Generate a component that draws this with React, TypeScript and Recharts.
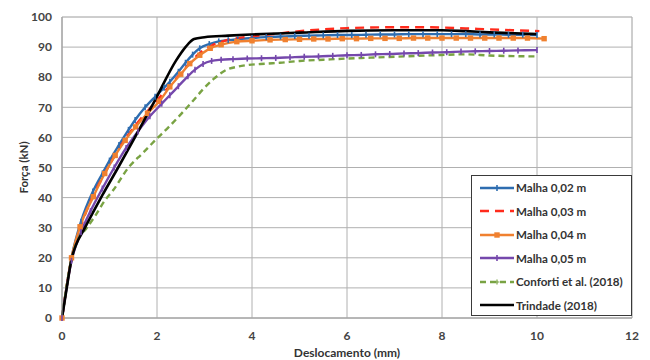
import React from 'react';
import { LineChart, Line, XAxis, YAxis, CartesianGrid, Legend } from 'recharts';

// Tick values
const xTicks = [0, 2, 4, 6, 8, 10, 12];
const yTicks = [0, 10, 20, 30, 40, 50, 60, 70, 80, 90, 100];
const minorX = [0, 0.4, 0.8, 1.2, 1.6, 2, 2.4, 2.8, 3.2, 3.6, 4, 4.4, 4.8, 5.2, 5.6, 6, 6.4, 6.8, 7.2, 7.6, 8, 8.4, 8.8, 9.2, 9.6, 10, 10.4, 10.8, 11.2, 11.6, 12];
const minorY = [0, 2, 4, 6, 8, 10, 12, 14, 16, 18, 20, 22, 24, 26, 28, 30, 32, 34, 36, 38, 40, 42, 44, 46, 48, 50, 52, 54, 56, 58, 60, 62, 64, 66, 68, 70, 72, 74, 76, 78, 80, 82, 84, 86, 88, 90, 92, 94, 96, 98, 100];

// Malha 0,02 m
const disp02 = [0, 0.2, 0.4, 0.65, 0.85, 1.0, 1.2, 1.4, 1.54, 1.75, 1.96, 2.15, 2.27, 2.45, 2.6, 2.75, 2.9, 3.1, 3.3, 3.5, 3.7, 4.0, 4.3, 4.6, 4.9, 5.2, 5.5, 5.8, 6.1, 6.4, 6.7, 7.0, 7.3, 7.6, 7.9, 8.2, 8.5, 8.8, 9.1, 9.4, 9.7, 10.0];
const force02 = [0, 20, 32, 42, 48, 52.3, 57.5, 62.5, 65.8, 70, 73.5, 76.5, 78.5, 81.8, 84.8, 87.5, 89.6, 91, 91.9, 92.3, 92.6, 93, 93.3, 93.5, 93.7, 93.8, 93.9, 94, 94, 94.1, 94.2, 94.2, 94.3, 94.3, 94.3, 94.3, 94.3, 94.2, 94.2, 94.1, 94.1, 94.0];

// Malha 0,03 m
const disp03 = [0, 0.2, 0.4, 0.65, 0.9, 1.15, 1.4, 1.65, 1.9, 2.15, 2.4, 2.65, 2.9, 3.15, 3.4, 3.7, 4.0, 4.5, 5, 5.5, 6, 6.5, 7, 7.5, 8, 8.5, 9, 9.5, 10.05];
const force03 = [0, 19.5, 30.5, 40.5, 48, 55, 61, 66, 70.5, 75, 79.5, 84, 88, 90.5, 92, 93, 93.6, 94.4, 95.3, 95.9, 96.3, 96.5, 96.6, 96.6, 96.5, 96.2, 95.9, 95.6, 95.3];

// Malha 0,04 m
const disp04 = [0, 0.2, 0.38, 0.66, 0.9, 1.12, 1.33, 1.55, 1.8, 2.05, 2.27, 2.5, 2.69, 2.9, 3.12, 3.35, 3.68, 4.0, 4.38, 4.7, 5.0, 5.3, 5.6, 5.9, 6.2, 6.5, 6.8, 7.1, 7.4, 7.7, 8.0, 8.3, 8.6, 8.9, 9.2, 9.5, 9.8, 10.15];
const force04 = [0, 20, 30.3, 40.3, 48, 54, 59, 63.5, 68, 72, 76.8, 81, 84.5, 87.3, 89.6, 90.8, 91.8, 92.1, 92.4, 92.5, 92.6, 92.7, 92.7, 92.8, 92.8, 92.9, 92.9, 92.9, 93, 93, 93, 93, 93, 93, 93, 93, 93, 92.8];

// Malha 0,05 m
const disp05 = [0, 0.2, 0.4, 0.6, 0.85, 1.1, 1.35, 1.6, 1.85, 2.1, 2.27, 2.45, 2.65, 2.8, 2.97, 3.15, 3.35, 3.6, 3.9, 4.2, 4.5, 4.8, 5.1, 5.4, 5.7, 6.0, 6.3, 6.6, 6.9, 7.2, 7.5, 7.8, 8.1, 8.4, 8.7, 9.0, 9.3, 9.6, 10.0];
const force05 = [0, 19, 28.5, 35.5, 43, 50, 56.5, 62, 67, 71.2, 74, 77, 80.3, 82.5, 84.4, 85.4, 85.8, 86, 86.2, 86.3, 86.4, 86.6, 86.8, 86.9, 87.1, 87.3, 87.4, 87.6, 87.7, 87.9, 88, 88.2, 88.3, 88.5, 88.6, 88.7, 88.8, 88.9, 89];

// Conforti et al. (2018)
const dispConf = [0, 0.2, 0.35, 0.5, 0.7, 0.9, 1.08, 1.4, 1.7, 1.96, 2.25, 2.52, 2.75, 2.97, 3.2, 3.47, 3.7, 3.89, 4.3, 4.59, 5, 5.5, 6, 6.5, 7, 7.5, 8, 8.5, 9, 9.5, 10];
const forceConf = [0, 19.5, 26.5, 29.5, 34, 39, 42.5, 50, 54.8, 59, 63.5, 68, 72, 76, 79.5, 82.5, 83.5, 84, 84.5, 84.8, 85.4, 85.8, 86.2, 86.5, 86.8, 87.1, 87.4, 87.6, 87.2, 87, 86.9];

// Trindade (2018)
const dispTrin = [0, 0.1, 0.2, 0.3, 0.45, 0.65, 0.85, 1.2, 1.5, 1.96, 2.4, 2.6, 2.78, 3.0, 3.5, 4, 5, 6, 7, 8, 8.5, 9, 10];
const forceTrin = [0, 10, 19.5, 24.5, 29, 35, 40.8, 50.5, 59, 72.4, 85.5, 90, 92.7, 93.3, 93.8, 94.2, 94.8, 95.4, 95.6, 95.6, 95.3, 94.9, 94.3];

const names = ['Malha 0,02 m', 'Malha 0,03 m', 'Malha 0,04 m', 'Malha 0,05 m', 'Conforti et al. (2018)', 'Trindade (2018)'];

const zip = (xs: number[], ys: number[]) => xs.map((x, i) => ({ x, y: ys[i] }));

type Marker = 'tick' | 'square' | 'none' | 'plus';
const series = [
  { name: names[0], data: zip(disp02, force02), color: '#2E6DB0', dash: undefined as string | undefined, marker: 'tick' as Marker },
  { name: names[1], data: zip(disp03, force03), color: '#FF2B1C', dash: '9 6', marker: 'none' as Marker },
  { name: names[2], data: zip(disp04, force04), color: '#F0802F', dash: undefined, marker: 'square' as Marker },
  { name: names[3], data: zip(disp05, force05), color: '#7548AC', dash: undefined, marker: 'tick' as Marker },
  { name: names[4], data: zip(dispConf, forceConf), color: '#79A343', dash: '6 4', marker: 'none' as Marker },
  { name: names[5], data: zip(dispTrin, forceTrin), color: '#000000', dash: undefined, marker: 'none' as Marker },
];

const FONT = 'Lato, "Liberation Sans", sans-serif';

const markerShape = (m: Marker, color: string, cx: number, cy: number, key?: string | number) => {
  if (m === 'square') return <rect key={key} x={cx - 2.7} y={cy - 2.7} width={5.4} height={5.4} fill={color} stroke="none" />;
  if (m === 'tick') return <path key={key} d={`M${cx},${cy - 3} V${cy + 3}`} stroke={color} strokeWidth={1.6} fill="none" />;
  if (m === 'plus') return <path key={key} d={`M${cx - 2.5},${cy} H${cx + 2.5} M${cx},${cy - 2.5} V${cy + 2.5}`} stroke={color} strokeWidth={1.2} fill="none" />;
  return <g key={key} />;
};

const renderLegend = () => (
  <div
    style={{
      background: '#ffffff',
      border: '1.5px solid #3a3a3a',
      boxSizing: 'border-box',
      width: 161,
      height: 141,
      padding: '0 0 0 8px',
      fontFamily: FONT,
      fontSize: 11.6,
      fontWeight: 700,
      color: '#333',
    }}
  >
    {series.map((s) => (
      <div key={s.name} style={{ display: 'flex', alignItems: 'center', height: 23.5 }}>
        <svg width={34} height={10} style={{ marginRight: 2 }}>
          <line x1={0} y1={5} x2={34} y2={5} stroke={s.color} strokeWidth={2.5} strokeDasharray={s.dash} />
          {s.marker !== 'none' && markerShape(s.marker, s.color, 17, 5)}
          {s.name.startsWith('Conforti') && markerShape('plus', s.color, 17, 5)}
        </svg>
        <span>{s.name}</span>
      </div>
    ))}
  </div>
);

export default function App() {
  return (
    <div style={{ position: 'absolute', left: 0, top: 0 }}>
      <LineChart width={650} height={360} margin={{ top: 17, right: 18, bottom: 0, left: 0 }}>
        <XAxis xAxisId="minor" dataKey="x" type="number" domain={[0, 12]} ticks={minorX} hide />
        <YAxis yAxisId="minor" type="number" domain={[0, 100]} ticks={minorY} hide />
        <CartesianGrid xAxisId="minor" yAxisId="minor" stroke="#d6d6d6" strokeWidth={1} />
        <CartesianGrid stroke="#b0b0b0" strokeWidth={1} />
        <XAxis
          dataKey="x"
          type="number"
          domain={[0, 12]}
          ticks={xTicks}
          height={42}
          tickLine={false}
          tickSize={6}
          tickMargin={7}
          axisLine={{ stroke: '#a0a0a0' }}
          tick={{ fontFamily: FONT, fontSize: 12, fontWeight: 700, fill: '#444' }}
          label={{ value: 'Deslocamento (mm)', position: 'insideBottom', offset: 3, style: { fontFamily: FONT, fontSize: 12, fontWeight: 700, fill: '#333' } }}
        />
        <YAxis
          type="number"
          domain={[0, 100]}
          ticks={yTicks}
          width={62}
          tickLine={false}
          tickSize={6}
          tickMargin={4}
          axisLine={{ stroke: '#a0a0a0' }}
          tick={{ fontFamily: FONT, fontSize: 12, fontWeight: 700, fill: '#444' }}
          label={{
            content: (props: any) => {
              const vb = props.viewBox || { x: 0, y: 17, width: 62, height: 301 };
              const cx = vb.x + 23;
              const cy = vb.y + vb.height / 2;
              return (
                <text x={cx} y={cy} transform={`rotate(-90, ${cx}, ${cy})`} textAnchor="middle" dominantBaseline="central" style={{ fontFamily: FONT, fontSize: 11.5, fontWeight: 700, fill: '#333' }}>
                  Força (kN)
                </text>
              );
            },
          }}
        />
        {series.map((s) => (
          <Line
            key={s.name}
            data={s.data}
            dataKey="y"
            name={s.name}
            type="monotone"
            stroke={s.color}
            strokeWidth={s.name.startsWith('Trindade') ? 2.6 : 2.4}
            strokeDasharray={s.dash}
            isAnimationActive={false}
            dot={
              s.marker === 'none'
                ? false
                : (p: any) => markerShape(s.marker, s.color, p.cx, p.cy, `${s.name}-${p.index}`)
            }
            activeDot={false}
          />
        ))}
        <Legend
          layout="vertical"
          align="center"
          verticalAlign="middle"
          content={renderLegend}
          wrapperStyle={{ position: 'absolute', left: 471, top: 175, width: 161, height: 141 }}
        />
      </LineChart>
    </div>
  );
}
